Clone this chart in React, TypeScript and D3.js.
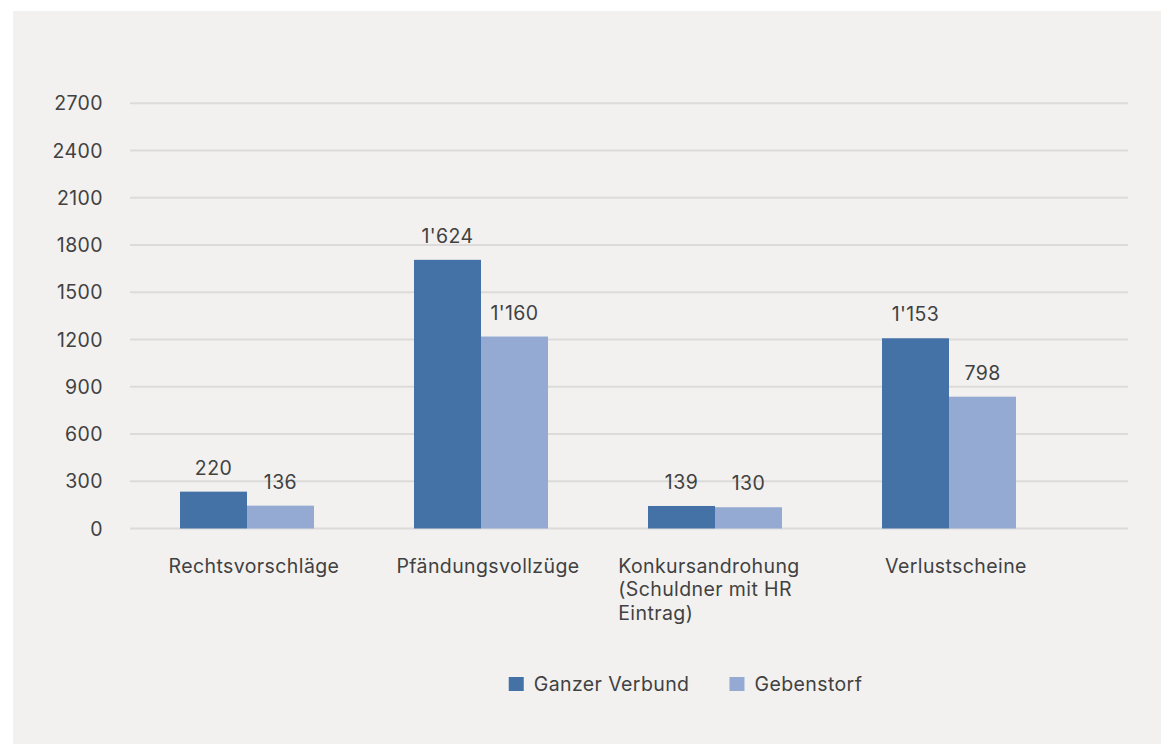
import { useEffect, useRef } from 'react';
import * as d3 from 'd3';

// Categories (one entry per line of the wrapped axis label)
const categories = [
  ['Rechtsvorschläge'],
  ['Pfändungsvollzüge'],
  ['Konkursandrohung', '(Schuldner mit HR', 'Eintrag)'],
  ['Verlustscheine'],
];
const seriesNames = ['Ganzer Verbund', 'Gebenstorf'];
// bar heights as drawn in the picture
const ganzerVerbund = [234, 1706, 143, 1208];
const gebenstorf = [145, 1219, 135, 837];
// value labels printed above the bars
const ganzerLabels = [220, 1624, 139, 1153];
const gebenstorfLabels = [136, 1160, 130, 798];
const yTicks = [0, 300, 600, 900, 1200, 1500, 1800, 2100, 2400, 2700];

const colors = ['#4471a6', '#94aad3'];
const FONT = 'Inter, "Noto Sans", sans-serif';
const FS = 19.5;
const LS = 0.4;

export default function App() {
  const svgRef = useRef<SVGSVGElement | null>(null);

  useEffect(() => {
    if (!svgRef.current) return;
    const width = 1161;
    const height = 744;
    const svg = d3.select(svgRef.current);
    svg.selectAll('*').remove();

    // panel background
    svg.append('rect')
      .attr('x', 13).attr('y', 11)
      .attr('width', width - 13).attr('height', height - 11)
      .attr('fill', '#f2f1f0');

    const x = d3.scaleBand<number>()
      .domain(d3.range(categories.length))
      .range([130, 1066])
      .paddingInner(0.4274)
      .paddingOuter(0.2137);
    const xSub = d3.scaleBand<number>()
      .domain([0, 1])
      .range([0, x.bandwidth()]);
    const y = d3.scaleLinear().domain([0, 2700]).range([528.5, 103.3]);

    const fmt = d3.formatLocale({ decimal: '.', thousands: "'", grouping: [3], currency: ['', ''] }).format(',');

    const styleText = (sel: any) => sel
      .attr('font-family', FONT)
      .attr('font-size', FS)
      .attr('letter-spacing', LS)
      .attr('fill', '#414141');

    // gridlines
    svg.append('g')
      .selectAll('line')
      .data(yTicks)
      .join('line')
      .attr('x1', 130).attr('x2', 1128)
      .attr('y1', d => y(d)).attr('y2', d => y(d))
      .attr('stroke', '#dcdbd9')
      .attr('stroke-width', 2);

    // y tick labels
    svg.append('g')
      .selectAll('text')
      .data(yTicks)
      .join('text')
      .attr('x', 103)
      .attr('y', d => y(d))
      .attr('dy', '0.36em')
      .attr('text-anchor', 'end')
      .call(styleText)
      .text(d => String(d));

    const series = [
      { values: ganzerVerbund, labels: ganzerLabels },
      { values: gebenstorf, labels: gebenstorfLabels },
    ];

    series.forEach((s, si) => {
      const g = svg.append('g');
      g.selectAll('rect')
        .data(s.values)
        .join('rect')
        .attr('x', (_, i) => (x(i) as number) + (xSub(si) as number))
        .attr('y', d => y(d))
        .attr('width', xSub.bandwidth())
        .attr('height', d => y(0) - y(d))
        .attr('fill', colors[si]);
      g.selectAll('text')
        .data(s.values)
        .join('text')
        .attr('x', (_, i) => (x(i) as number) + (xSub(si) as number) + xSub.bandwidth() / 2)
        .attr('y', d => y(d) - 24)
        .attr('dy', '0.36em')
        .attr('text-anchor', 'middle')
        .call(styleText)
        .text((_, i) => fmt(s.labels[i]));
    });

    // category labels, left-aligned block centred under each group
    categories.forEach((lines, i) => {
      const cx = (x(i) as number) + x.bandwidth() / 2;
      const t = svg.append('text').call(styleText);
      lines.forEach((line, li) => {
        t.append('tspan').attr('y', 572.5 + li * 23.5).text(line);
      });
      const w = d3.max(t.selectAll<SVGTSpanElement, unknown>('tspan').nodes(), n => n.getComputedTextLength()) || 0;
      const left = lines.length > 1 ? cx - w / 2 - 6 : cx - w / 2 + 7;
      t.selectAll('tspan').attr('x', left);
    });

    // legend
    const legend = svg.append('g');
    const items = seriesNames.map((name, i) => {
      const item = legend.append('g');
      item.append('rect')
        .attr('width', 15).attr('height', 14)
        .attr('y', 677)
        .attr('fill', colors[i]);
      const txt = item.append('text')
        .attr('x', 25)
        .attr('y', 684)
        .attr('dy', '0.36em')
        .call(styleText)
        .text(name);
      return { item, w: 25 + (txt.node() as SVGTextElement).getComputedTextLength() };
    });
    const gap = 40;
    const total = d3.sum(items, d => d.w) + gap * (items.length - 1);
    let cur = 685.5 - total / 2;
    items.forEach(d => {
      d.item.attr('transform', `translate(${cur},0)`);
      cur += d.w + gap;
    });
  }, []);

  return (
    <svg
      ref={svgRef}
      width={1161}
      height={744}
      style={{ position: 'absolute', left: 0, top: 0, display: 'block', background: '#fff' }}
    />
  );
}
